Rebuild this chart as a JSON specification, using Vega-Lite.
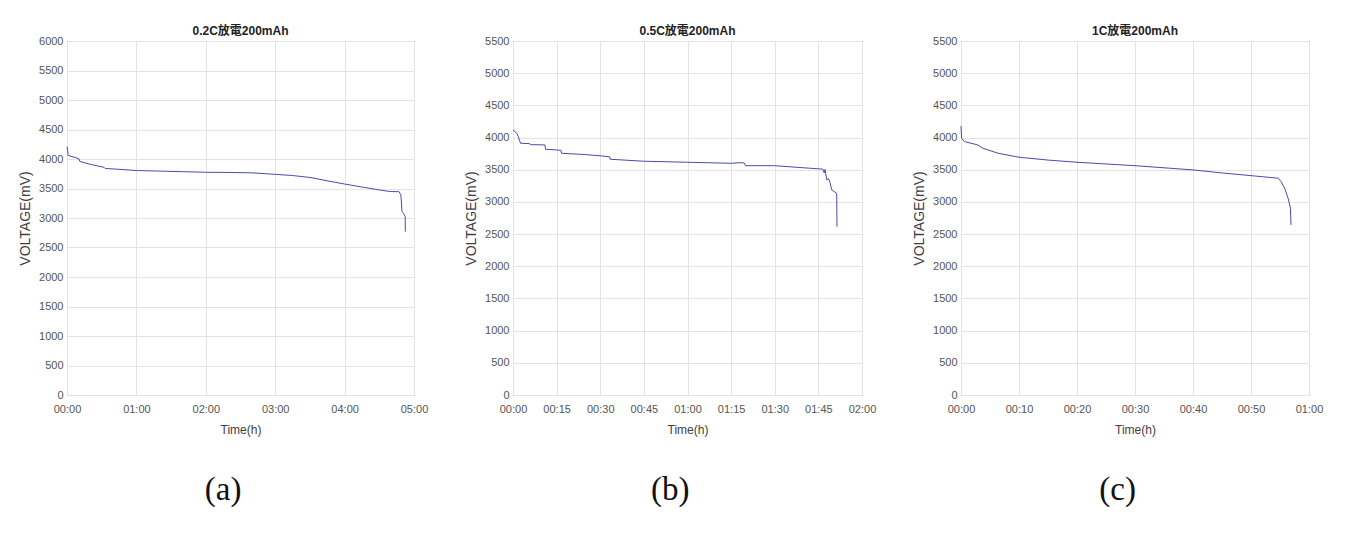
{
  "$schema": "https://vega.github.io/schema/vega-lite/v6.json",
  "background": "white",
  "padding": {"left": 18, "top": 24, "right": 5, "bottom": 5},
  "datasets": {
    "a": [
      {"t": 0, "v": 4210}, {"t": 0.5, "v": 4150}, {"t": 1, "v": 4060}, {"t": 3.5, "v": 4045},
      {"t": 8, "v": 4020}, {"t": 10.5, "v": 4000}, {"t": 11, "v": 3960}, {"t": 20, "v": 3910},
      {"t": 32, "v": 3860}, {"t": 33, "v": 3840}, {"t": 45, "v": 3825}, {"t": 60, "v": 3805},
      {"t": 80, "v": 3795}, {"t": 100, "v": 3785}, {"t": 120, "v": 3775}, {"t": 140, "v": 3772},
      {"t": 160, "v": 3765}, {"t": 180, "v": 3740}, {"t": 195, "v": 3720}, {"t": 211, "v": 3685},
      {"t": 225, "v": 3630}, {"t": 240, "v": 3576}, {"t": 255, "v": 3525}, {"t": 274, "v": 3463},
      {"t": 280, "v": 3448}, {"t": 287, "v": 3446}, {"t": 288.5, "v": 3400}, {"t": 289, "v": 3305},
      {"t": 289.6, "v": 3107}, {"t": 291, "v": 3080}, {"t": 292.4, "v": 3022}, {"t": 292.5, "v": 2768}
    ],
    "b": [
      {"t": 0, "v": 4118}, {"t": 1.3, "v": 4067}, {"t": 1.8, "v": 4014}, {"t": 2.6, "v": 3911},
      {"t": 5.8, "v": 3905}, {"t": 6, "v": 3890}, {"t": 11, "v": 3885}, {"t": 11.2, "v": 3818},
      {"t": 15, "v": 3807}, {"t": 16.5, "v": 3800}, {"t": 16.7, "v": 3756}, {"t": 25, "v": 3735},
      {"t": 30.5, "v": 3714}, {"t": 33.2, "v": 3700}, {"t": 33.4, "v": 3663}, {"t": 45, "v": 3632},
      {"t": 60, "v": 3616}, {"t": 75, "v": 3600}, {"t": 78, "v": 3610}, {"t": 79.5, "v": 3605},
      {"t": 80, "v": 3563}, {"t": 90, "v": 3563}, {"t": 100, "v": 3530}, {"t": 105.6, "v": 3512},
      {"t": 106.5, "v": 3510}, {"t": 107, "v": 3450}, {"t": 107.3, "v": 3505}, {"t": 107.9, "v": 3341},
      {"t": 108.5, "v": 3360}, {"t": 109, "v": 3300}, {"t": 109.6, "v": 3186}, {"t": 111.3, "v": 3134},
      {"t": 111.4, "v": 2615}
    ],
    "c": [
      {"t": 0, "v": 4180}, {"t": 0.1, "v": 3990}, {"t": 0.6, "v": 3937}, {"t": 2.9, "v": 3885},
      {"t": 3.8, "v": 3833}, {"t": 6.4, "v": 3756}, {"t": 10, "v": 3694}, {"t": 15, "v": 3650},
      {"t": 20, "v": 3616}, {"t": 30, "v": 3563}, {"t": 40, "v": 3497}, {"t": 45, "v": 3450},
      {"t": 50, "v": 3408}, {"t": 54.7, "v": 3368}, {"t": 55.2, "v": 3315}, {"t": 55.8, "v": 3212},
      {"t": 56.4, "v": 3057}, {"t": 56.8, "v": 2901}, {"t": 56.9, "v": 2642}
    ]
  },
  "spacing": 35,
  "hconcat": [
    {
      "title": {"text": "(a)", "orient": "bottom", "anchor": "middle", "font": "Liberation Serif", "fontSize": 33, "fontWeight": "normal", "color": "#111111", "offset": 38},
      "vconcat": [
        {
          "title": {"text": "0.2C放電200mAh"},
          "width": 347, "height": 354,
          "data": {"name": "a"},
          "mark": {"type": "line", "color": "#4b4bab", "strokeWidth": 1},
          "encoding": {
            "x": {"field": "t", "type": "quantitative", "scale": {"domain": [0, 300], "nice": false},
              "axis": {"values": [0, 60, 120, 180, 240, 300], "labelExpr": "utcFormat(datum.value*60000, '%H:%M')", "title": "Time(h)"}},
            "y": {"field": "v", "type": "quantitative", "scale": {"domain": [0, 6000], "nice": false},
              "axis": {"values": [0, 500, 1000, 1500, 2000, 2500, 3000, 3500, 4000, 4500, 5000, 5500, 6000], "format": "d", "title": "VOLTAGE(mV)"}}
          }
        }
      ]
    },
    {
      "title": {"text": "(b)", "orient": "bottom", "anchor": "middle", "font": "Liberation Serif", "fontSize": 33, "fontWeight": "normal", "color": "#111111", "offset": 38},
      "vconcat": [
        {
          "title": {"text": "0.5C放電200mAh"},
          "width": 349, "height": 354,
          "data": {"name": "b"},
          "mark": {"type": "line", "color": "#4b4bab", "strokeWidth": 1},
          "encoding": {
            "x": {"field": "t", "type": "quantitative", "scale": {"domain": [0, 120], "nice": false},
              "axis": {"values": [0, 15, 30, 45, 60, 75, 90, 105, 120], "labelExpr": "utcFormat(datum.value*60000, '%H:%M')", "title": "Time(h)"}},
            "y": {"field": "v", "type": "quantitative", "scale": {"domain": [0, 5500], "nice": false},
              "axis": {"values": [0, 500, 1000, 1500, 2000, 2500, 3000, 3500, 4000, 4500, 5000, 5500], "format": "d", "title": "VOLTAGE(mV)"}}
          }
        }
      ]
    },
    {
      "title": {"text": "(c)", "orient": "bottom", "anchor": "middle", "font": "Liberation Serif", "fontSize": 33, "fontWeight": "normal", "color": "#111111", "offset": 38},
      "vconcat": [
        {
          "title": {"text": "1C放電200mAh"},
          "width": 348, "height": 354,
          "data": {"name": "c"},
          "mark": {"type": "line", "color": "#4b4bab", "strokeWidth": 1},
          "encoding": {
            "x": {"field": "t", "type": "quantitative", "scale": {"domain": [0, 60], "nice": false},
              "axis": {"values": [0, 10, 20, 30, 40, 50, 60], "labelExpr": "utcFormat(datum.value*60000, '%H:%M')", "title": "Time(h)"}},
            "y": {"field": "v", "type": "quantitative", "scale": {"domain": [0, 5500], "nice": false},
              "axis": {"values": [0, 500, 1000, 1500, 2000, 2500, 3000, 3500, 4000, 4500, 5000, 5500], "format": "d", "title": "VOLTAGE(mV)"}}
          }
        }
      ]
    }
  ],
  "config": {
    "view": {"stroke": "#8a8a8a", "strokeWidth": 1},
    "title": {"font": "Liberation Sans, Noto Sans CJK TC", "fontSize": 12, "fontWeight": "bold", "color": "#222222", "offset": -3},
    "axis": {
      "labelFont": "Liberation Sans", "labelFontSize": 11, "labelColor": "#555555",
      "titleFont": "Liberation Sans", "titleFontWeight": "normal", "titleColor": "#404040",
      "gridColor": "#e3e3e3", "gridWidth": 1, "domain": false,
      "ticks": false, "labelFlush": false, "labelOverlap": false
    },
    "axisX": {"titleFontSize": 12, "titlePadding": 10, "labelPadding": 8},
    "axisY": {"titleFontSize": 14, "titlePadding": 6, "labelPadding": 4},
    "concat": {"spacing": 0}
  }
}
